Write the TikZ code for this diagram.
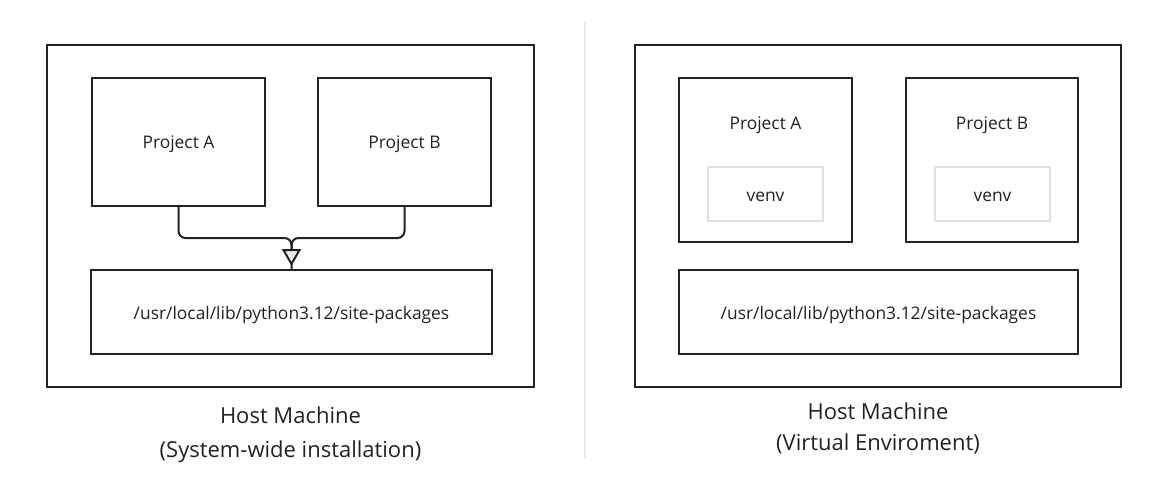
\documentclass[tikz,border=0pt]{standalone}
\usepackage{fontspec}
\setmainfont{Open Sans}
\usetikzlibrary{arrows.meta}
\definecolor{ink}{HTML}{222222}
\definecolor{txt}{HTML}{222222}
\definecolor{venvgray}{HTML}{E0E0E0}
\definecolor{divgray}{HTML}{E8E8E8}
\definecolor{tipfill}{HTML}{EEEEEE}
\tikzset{
  box/.style={draw=ink, line width=2pt, rectangle, inner sep=0pt, fill=white},
  venvbox/.style={draw=venvgray, line width=2pt, rectangle, inner sep=0pt},
  lbl/.style={text=txt, font=\fontsize{17.4}{20}\selectfont, inner sep=0pt, yshift=-2.5pt},
  captext/.style={text=txt, font=\fontsize{22}{26}\selectfont, inner sep=0pt, anchor=base},
  conn/.style={draw=ink, line width=2pt, rounded corners=7pt},
  tipped/.style={-{Triangle[length=17pt,width=19pt,fill=tipfill]}}
}
\begin{document}
\begin{tikzpicture}[x=1pt,y=-1pt]
\useasboundingbox (0,0) rectangle (1176,483);
% divider
\coordinate (dtop) at (585,22);
\coordinate (dbot) at (585,458);
\draw[divgray, line width=2pt] (dtop) -- (dbot);

% left panel
\node[box, minimum width=487pt, minimum height=342pt] (hostL) at (290.5,216) {};
\node[box, minimum width=173pt, minimum height=128pt] (paL) at (178.5,142) {};
\node[lbl] (paLt) at (paL.center) {Project A};
\node[box, minimum width=173pt, minimum height=128pt] (pbL) at (404.5,142) {};
\node[lbl] (pbLt) at (pbL.center) {Project B};
\node[box, minimum width=401pt, minimum height=84pt] (spL) at (291.5,312) {};
\node[lbl] (spLt) at (spL.center) {/usr/local/lib/python3.12/site-packages};
\coordinate (jL) at (291.5,238);
\draw[conn] (paL.south) |- (jL) -- (spL.north);
\draw[conn, tipped, shorten >=3pt] (pbL.south) |- (jL) -- (spL.north);
\node[captext] (capL1) at (290.5,423) {Host Machine};
\node[captext] (capL2) at (290.5,457) {(System-wide installation)};

% right panel
\node[box, minimum width=486pt, minimum height=342pt] (hostR) at (878,216) {};
\node[box, minimum width=173pt, minimum height=164pt] (paR) at (765.5,160) {};
\node[lbl] (paRt) at (765.5,123) {Project A};
\node[venvbox, minimum width=115pt, minimum height=54pt] (venvA) at (765.5,194) {};
\node[lbl] (venvAt) at (venvA.center) {venv};
\node[box, minimum width=172pt, minimum height=164pt] (pbR) at (992,160) {};
\node[lbl] (pbRt) at (992,123) {Project B};
\node[venvbox, minimum width=115pt, minimum height=54pt] (venvB) at (992.5,194) {};
\node[lbl] (venvBt) at (venvB.center) {venv};
\node[box, minimum width=399pt, minimum height=84pt] (spR) at (878.5,312) {};
\node[lbl] (spRt) at (spR.center) {/usr/local/lib/python3.12/site-packages};
\node[captext] (capR1) at (878,419) {Host Machine};
\node[captext] (capR2) at (878,450) {(Virtual Enviroment)};
\end{tikzpicture}
\end{document}
